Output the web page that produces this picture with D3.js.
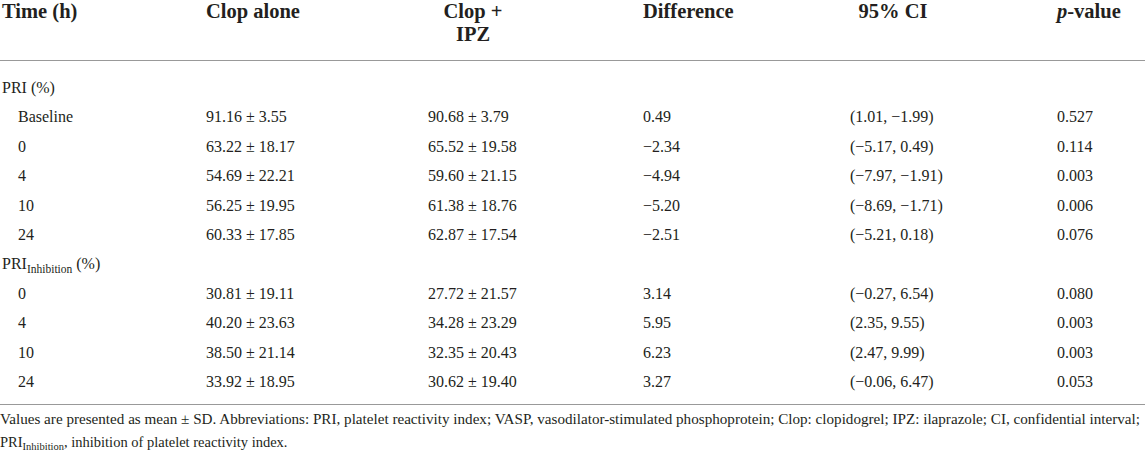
<!DOCTYPE html>
<html><head><meta charset="utf-8">
<script src="https://cdn.jsdelivr.net/npm/d3@7"></script>
<style>html,body{margin:0;padding:0;background:#fff;} svg{display:block;}</style>
</head><body>
<svg id="t" width="1145" height="457"></svg>
<script>
// ---- data ----
const headers = ["Time (h)", "Clop alone", "Clop +|IPZ", "Difference", "95% CI", "p-value"];
const groupLabels = ["PRI (%)", "PRI|Inhibition| (%)"];
const timeLabels = [["Baseline", "0", "4", "10", "24"], ["0", "4", "10", "24"]];
const clopAloneMean = [[91.16, 63.22, 54.69, 56.25, 60.33], [30.81, 40.20, 38.50, 33.92]];
const clopAloneSD   = [[3.55, 18.17, 22.21, 19.95, 17.85], [19.11, 23.63, 21.14, 18.95]];
const clopIPZMean   = [[90.68, 65.52, 59.60, 61.38, 62.87], [27.72, 34.28, 32.35, 30.62]];
const clopIPZSD     = [[3.79, 19.58, 21.15, 18.76, 17.54], [21.57, 23.29, 20.43, 19.40]];
const difference    = [[0.49, -2.34, -4.94, -5.20, -2.51], [3.14, 5.95, 6.23, 3.27]];
const ciLow         = [[1.01, -5.17, -7.97, -8.69, -5.21], [-0.27, 2.35, 2.47, -0.06]];
const ciHigh        = [[-1.99, 0.49, -1.91, -1.71, 0.18], [6.54, 9.55, 9.99, 6.47]];
const pValues       = [[0.527, 0.114, 0.003, 0.006, 0.076], [0.080, 0.003, 0.003, 0.053]];
const footnote1 = "Values are presented as mean ± SD. Abbreviations: PRI, platelet reactivity index; VASP, vasodilator-stimulated phosphoprotein; Clop: clopidogrel; IPZ: ilaprazole; CI, confidential interval;";
const footnote2 = ", inhibition of platelet reactivity index.";

// ---- layout ----
const W = 1145;
const svg = d3.select("#t");
const ink = "#231f20";
const f2 = d3.format(".2f"), f3 = d3.format(".3f");
const serif = "'Liberation Serif','Times New Roman',serif";

const colX = d3.scaleOrdinal().domain(d3.range(6)).range([2, 206, 428, 643, 850, 1057]);
const headX = d3.scaleOrdinal().domain(d3.range(6)).range([2, 206, 473, 643, 893, 1057]);
const headAnchor = ["start", "start", "middle", "start", "middle", "start"];

// rows
const rows = [];
groupLabels.forEach((g, gi) => {
  rows.push({type: "group", label: g});
  timeLabels[gi].forEach((t, i) => {
    rows.push({type: "data", cells: [
      t,
      f2(clopAloneMean[gi][i]) + " ± " + f2(clopAloneSD[gi][i]),
      f2(clopIPZMean[gi][i]) + " ± " + f2(clopIPZSD[gi][i]),
      f2(difference[gi][i]),
      "(" + f2(ciLow[gi][i]) + ", " + f2(ciHigh[gi][i]) + ")",
      f3(pValues[gi][i])
    ]});
  });
});
const y = d3.scaleLinear().domain([0, rows.length - 1]).range([93, 387]);

// header
const hg = svg.append("g").attr("font-family", serif).attr("font-weight", "bold")
  .attr("font-size", 20.5).attr("fill", ink);
headers.forEach((h, i) => {
  const t = hg.append("text").attr("x", headX(i)).attr("text-anchor", headAnchor[i]);
  if (h.includes("|")) {
    h.split("|").forEach((line, li) => {
      t.append("tspan").attr("x", headX(i)).attr("y", 18 + li * 23).text(line);
    });
  } else if (h === "p-value") {
    t.attr("y", 18);
    t.append("tspan").attr("font-style", "italic").text("p");
    t.append("tspan").text("-value");
  } else {
    t.attr("y", 18).text(h);
  }
});

// rules
svg.append("line").attr("x1", 0).attr("x2", W).attr("y1", 60.5).attr("y2", 60.5)
  .attr("stroke", "#999").attr("stroke-width", 1.2);
svg.append("line").attr("x1", 0).attr("x2", W).attr("y1", 404.5).attr("y2", 404.5)
  .attr("stroke", "#999").attr("stroke-width", 1.2);

// body
const bg = svg.append("g").attr("font-family", serif).attr("font-size", 16).attr("fill", ink);
rows.forEach((r, ri) => {
  if (r.type === "group") {
    const t = bg.append("text").attr("x", 2).attr("y", y(ri));
    const parts = r.label.split("|");
    t.append("tspan").text(parts[0]);
    if (parts.length > 1) {
      t.append("tspan").attr("font-size", 11.5).attr("dy", 4).text(parts[1]);
      t.append("tspan").attr("dy", -4).text(parts[2]);
    }
  } else {
    r.cells.forEach((c, ci) => {
      bg.append("text").attr("x", ci === 0 ? 18 : colX(ci)).attr("y", y(ri)).text(c);
    });
  }
});

// footnote
const fg = svg.append("g").attr("font-family", serif).attr("font-size", 14.5).attr("fill", ink);
fg.append("text").attr("x", 0).attr("y", 424).attr("textLength", 1140)
  .attr("lengthAdjust", "spacingAndGlyphs").text(footnote1);
const t2 = fg.append("text").attr("x", 0).attr("y", 447);
t2.append("tspan").text("PRI");
t2.append("tspan").attr("font-size", 10.5).attr("dy", 3).text("Inhibition");
t2.append("tspan").attr("dy", -3).text(footnote2);
</script>
</body></html>
